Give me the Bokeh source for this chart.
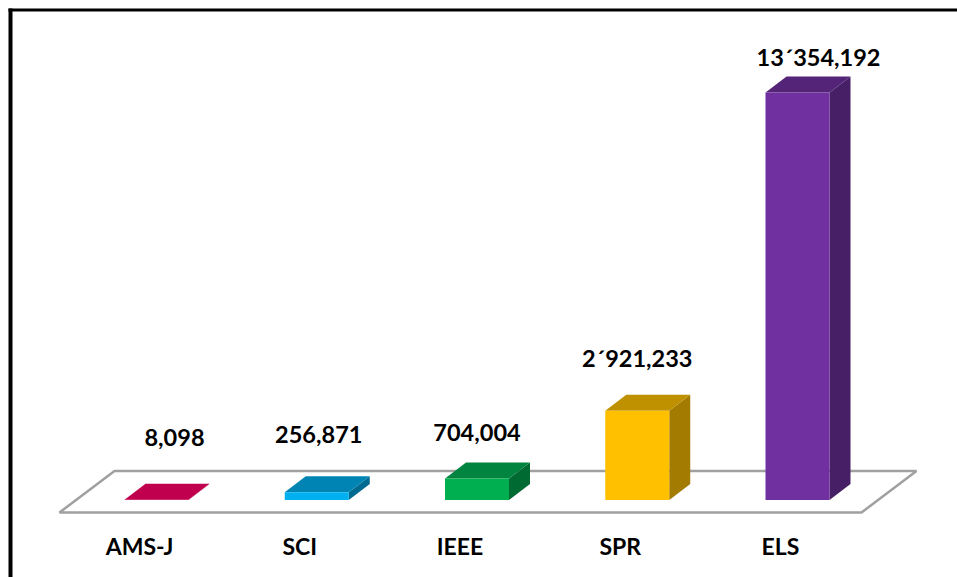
from bokeh.plotting import figure
from bokeh.models import Range1d
from bokeh.core.properties import value
from bokeh.embed import file_html
from bokeh.resources import INLINE

categories = ["AMS-J", "SCI", "IEEE", "SPR", "ELS"]
values = [8098, 256871, 704004, 2921233, 13354192]
value_labels = ["8,098", "256,871", "704,004", "2´921,233", "13´354,192"]

front_colors = ["#c0004e", "#00b0f0", "#00b050", "#ffc000", "#7030a0"]
top_colors = ["#c0004e", "#0084b4", "#008440", "#bf9000", "#542478"]
side_colors = ["#90003a", "#006a90", "#006a33", "#a37b00", "#471f66"]

# layout
W, H = 957, 577
PX_X = 160.25            # pixels per category
PX_Y = 13354192 / 407.5  # data units per pixel
BASE_TOP = 499.5         # baseline, pixels from figure top
BASE_PX = H - BASE_TOP
LEFT_PX = 156            # first category from figure left
HALF = 32 / PX_X
DX = 21 / PX_X
DY = 16 * PX_Y

value_dx = [18, 2, 0, 0, 21]
value_dy = [62.5, 57.5, 46.5, 52.5, 35.5]
cat_dx = -17
cat_dy = -46

p = figure(width=W, height=H, output_backend="svg", toolbar_location=None,
           x_range=Range1d(-LEFT_PX / PX_X, (W - LEFT_PX) / PX_X),
           y_range=Range1d(-BASE_PX * PX_Y, (H - BASE_PX) * PX_Y),
           min_border=0, min_border_left=0, min_border_right=0,
           min_border_top=0, min_border_bottom=0)
p.axis.visible = False
p.grid.visible = False
p.outline_line_color = None
p.background_fill_color = "white"
p.border_fill_color = "white"

# floor
fl = -97 / PX_X
fr = 705 / PX_X
fb = -12.5 * PX_Y
bb = 29 * PX_Y
shift = 55 / PX_X
p.patch([fl, fr, fr + shift, fl + shift], [fb, fb, bb, bb],
        fill_color="white", line_color="#a0a0a0", line_width=2.5)

for i, v in enumerate(values):
    l, r = i - HALF, i + HALF
    p.patch([r, r + DX, r + DX, r], [0, DY, v + DY, v],
            fill_color=side_colors[i], line_color=None)
    p.patch([l, r, r + DX, l + DX], [v, v, v + DY, v + DY],
            fill_color=top_colors[i], line_color=None)
    p.patch([l, r, r, l], [0, 0, v, v],
            fill_color=front_colors[i], line_color=None)

font = value("Lato")
p.text(x=list(range(5)), y=values, text=value_labels,
       x_offset=value_dx, y_offset=[-d for d in value_dy],
       text_font=font, text_font_style="bold", text_font_size="23.5px",
       text_color="black", text_align="center", text_baseline="middle")
p.text(x=list(range(5)), y=[0] * 5, text=categories,
       x_offset=cat_dx, y_offset=-cat_dy,
       text_font=font, text_font_style="bold", text_font_size="23px",
       text_color="black", text_align="center", text_baseline="middle")

# black frame of the picture: left and top edges only
def xd(px):
    return (px - LEFT_PX) / PX_X
def yd(px):
    return (BASE_TOP - px) * PX_Y
p.quad(left=[xd(8)], right=[xd(12)], top=[yd(8)], bottom=[yd(577)],
       fill_color="black", line_color=None)
p.quad(left=[xd(8)], right=[xd(957)], top=[yd(8)], bottom=[yd(11)],
       fill_color="black", line_color=None)

open("out.html", "w").write(file_html(p, INLINE))
